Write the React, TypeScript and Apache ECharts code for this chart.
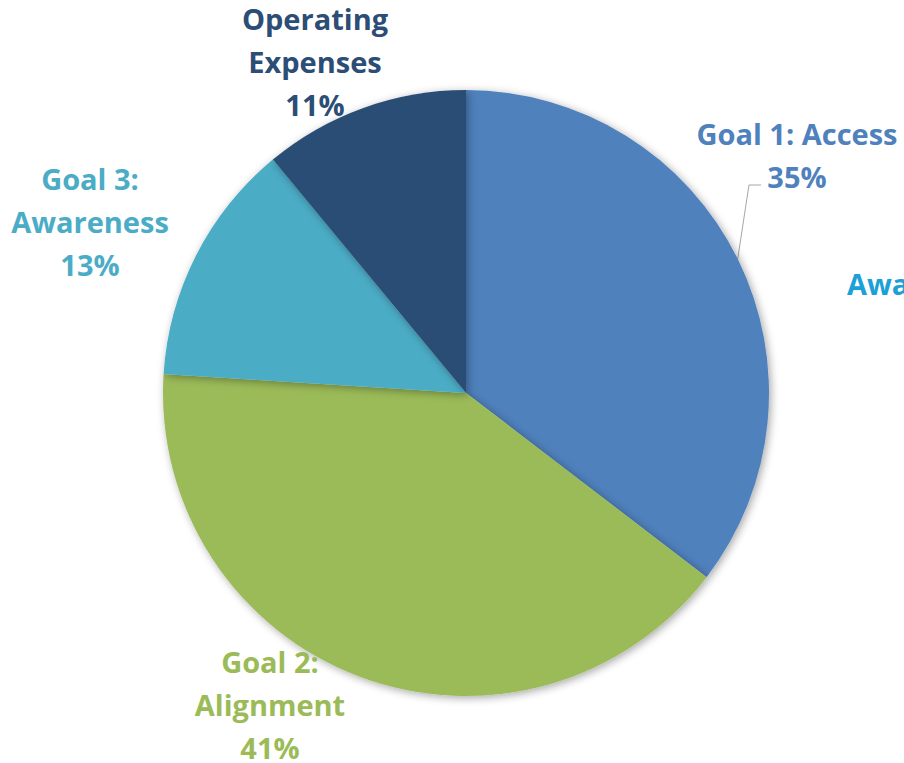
import React, { useEffect, useRef } from "react";
import * as echarts from "echarts";

const categories = ["Goal 1: Access", "Goal 2:\nAlignment", "Goal 3:\nAwareness", "Operating\nExpenses"];
const values = [35.4, 40.6, 13.0, 11.0];
const colors = ["#4F81BD", "#9BBB59", "#4BACC6", "#2C4D75"];
const labelColors = ["#4F81BD", "#9BBB59", "#4BACC6", "#2C4D75"];
const labelPos: [number, number][] = [
  [797, 155],
  [270, 704],
  [90, 221],
  [315, 61],
];
const strayText = "Awareness";

export default function App() {
  const ref = useRef<HTMLDivElement>(null);
  useEffect(() => {
    document.body.style.margin = "0";
    const chart = echarts.init(ref.current!, null, { renderer: "svg" });
    const font = "'Open Sans', Lato, sans-serif";
    chart.setOption({
      animation: false,
      backgroundColor: "#ffffff",
      graphic: [
        {
          type: "text",
          left: 847,
          top: 269,
          style: {
            text: strayText,
            fill: "#1BA0D8",
            font: `bold 29px ${font}`,
          },
        },
      ],
      series: [
        {
          type: "pie",
          center: [466, 393],
          radius: [0, 303],
          startAngle: 90,
          clockwise: true,
          data: categories.map((c, i) => ({
            name: c,
            value: values[i],
            itemStyle: { color: colors[i] },
            label: { color: labelColors[i] },
            labelLine: { show: i === 0 },
          })),
          itemStyle: {
            shadowBlur: 8,
            shadowColor: "rgba(0,0,0,0.35)",
            shadowOffsetX: 2,
            shadowOffsetY: 2,
          },
          label: {
            show: true,
            position: "outside",
            overflow: "none",
            formatter: (p: any) => `${p.name}\n${Math.round(p.percent)}%`,
            fontFamily: font,
            fontWeight: "bold",
            fontSize: 29,
            lineHeight: 43,
            align: "center",
          },
          labelLine: {
            show: false,
            length: 20,
            length2: 12,
            lineStyle: { color: "#A6A6A6", width: 1 },
          },
          labelLayout: (params: any) => {
            const i = params.dataIndex;
            const p = labelPos[i];
            const out: any = {
              x: p[0],
              y: p[1],
              align: "center",
              verticalAlign: "middle",
            };
            if (i === 0 && params.labelLinePoints) {
              const p0 = params.labelLinePoints[0];
              const p2 = [p[0] - 36, p[1] + 30];
              const p1 = [p2[0] - 12, p2[1]];
              out.labelLinePoints = [p0, p1, p2];
            }
            return out;
          },
        },
      ],
    });
    return () => chart.dispose();
  }, []);
  return <div ref={ref} style={{ width: 904, height: 763 }} />;
}
